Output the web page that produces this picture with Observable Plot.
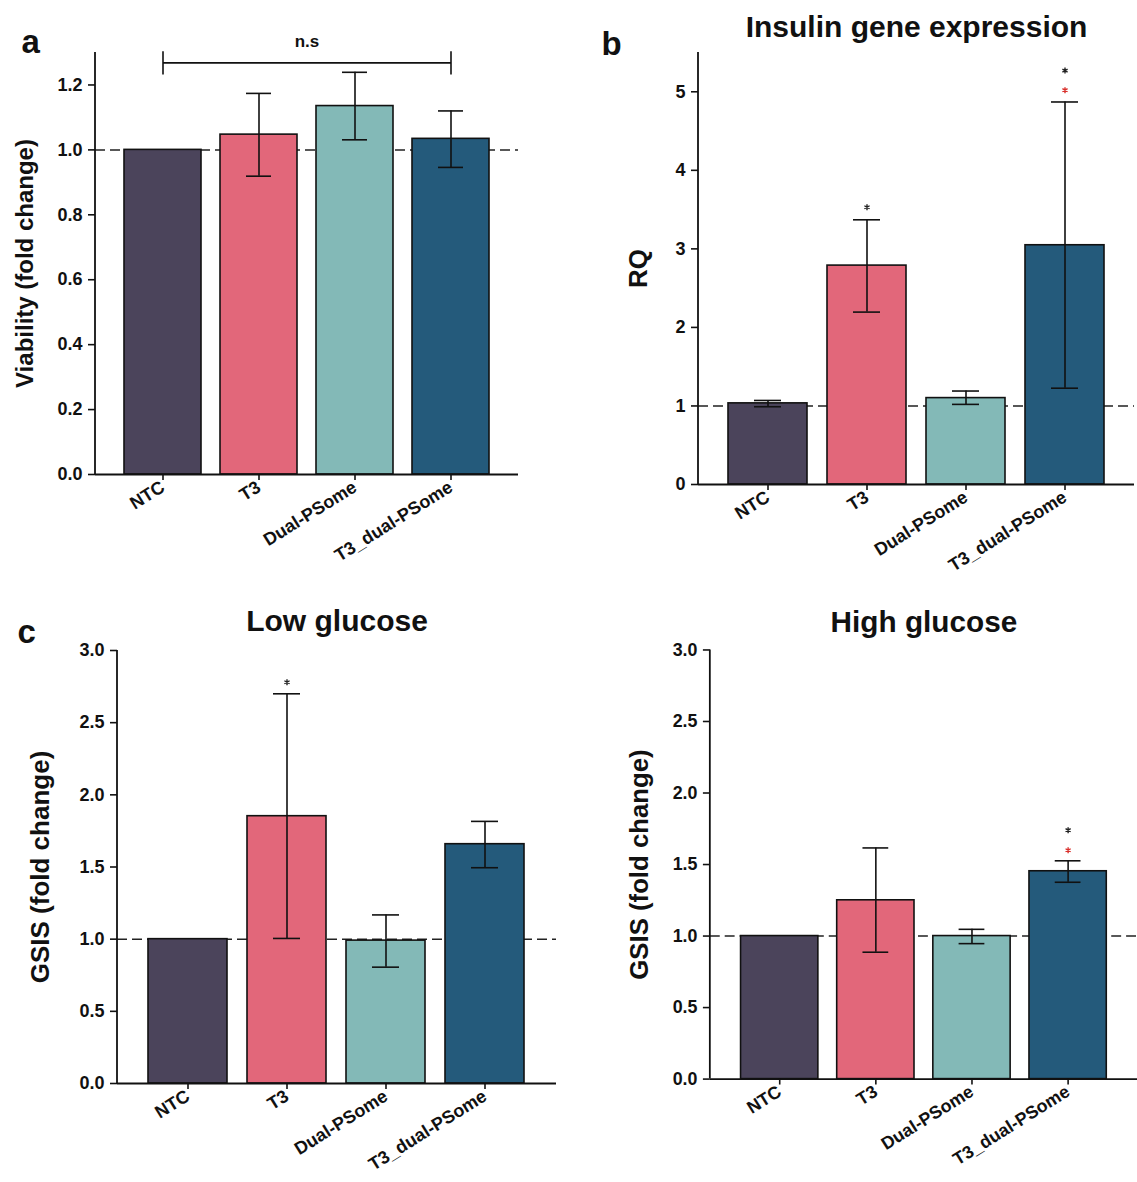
<!DOCTYPE html>
<html>
<head>
<meta charset="utf-8">
<script src="https://cdn.jsdelivr.net/npm/d3@7"></script>
<script src="https://cdn.jsdelivr.net/npm/@observablehq/plot@0.6"></script>
<style>
  html, body { margin: 0; padding: 0; background: #fff; overflow: hidden; }
  #fig { position: relative; width: 1137px; height: 1182px; }
  .panel { position: absolute; }
</style>
</head>
<body>
<div id="fig">
  <div class="panel" id="pa" style="left:0px;top:0px"></div>
  <div class="panel" id="pb" style="left:580px;top:0px"></div>
  <div class="panel" id="pc" style="left:0px;top:590px"></div>
  <div class="panel" id="pd" style="left:580px;top:590px"></div>
</div>
<script>
// ---------- data ----------
const groups = ["NTC", "T3", "Dual-PSome", "T3_dual-PSome"];
const groupColors = ["#4b445b", "#e2677a", "#83b9b7", "#245a7b"];

// a: viability
const viabMean = [1.0, 1.047, 1.135, 1.034];
const viabLo   = [null, 0.919, 1.031, 0.946];
const viabHi   = [null, 1.174, 1.239, 1.120];
const viabTicks = [0, 0.2, 0.4, 0.6, 0.8, 1.0, 1.2];
const nsGroups = ["NTC", "T3_dual-PSome"];
const nsLevel = 1.268, nsTickLo = 1.231, nsTickHi = 1.302, nsLabelY = 1.318;

// b: insulin gene expression
const rqMean = [1.033, 2.787, 1.10, 3.046];
const rqLo   = [0.99, 2.195, 1.02, 1.226];
const rqHi   = [1.07, 3.37, 1.19, 4.87];
const rqTicks = [0, 1, 2, 3, 4, 5];
const rqStarGroups = ["T3", "T3_dual-PSome", "T3_dual-PSome"];
const rqStarValues = [3.53, 5.27, 5.02];
const rqStarColors = ["#222", "#222", "#d9302c"];

// c: low glucose
const lowMean = [1.0, 1.852, 0.99, 1.658];
const lowLo   = [null, 1.005, 0.806, 1.495];
const lowHi   = [null, 2.70, 1.168, 1.816];
const lowStarGroups = ["T3"];
const lowStarValues = [2.78];
const lowStarColors = ["#222"];

// d: high glucose
const highMean = [1.0, 1.25, 1.0, 1.453];
const highLo   = [null, 0.887, 0.947, 1.376];
const highHi   = [null, 1.616, 1.047, 1.526];
const highStarGroups = ["T3_dual-PSome", "T3_dual-PSome"];
const highStarValues = [1.74, 1.60];
const highStarColors = ["#222", "#d9302c"];

const gsisTicks = [0, 0.5, 1.0, 1.5, 2.0, 2.5, 3.0];

// ---------- drawing ----------
const FONT = "'Liberation Sans', Arial, Helvetica, sans-serif";
const INK = "#111";

const yAxisLine = (index, scales, values, dims) => {
  const l = document.createElementNS("http://www.w3.org/2000/svg", "line");
  l.setAttribute("x1", dims.marginLeft);
  l.setAttribute("x2", dims.marginLeft);
  l.setAttribute("y1", dims.marginTop);
  l.setAttribute("y2", dims.height - dims.marginBottom);
  l.setAttribute("stroke", INK);
  l.setAttribute("stroke-width", 1.8);
  return l;
};

function panel(o) {
  const rows = groups.map((g, i) => ({g, v: o.means[i], lo: o.los[i], hi: o.his[i], c: groupColors[i]}));
  const errs = rows.filter(d => d.lo != null);
  const stars = (o.starGroups || []).map((g, i) => ({g, y: o.starValues[i], c: o.starColors[i]}));
  const capInset = 26;
  return Plot.plot({
    width: o.width, height: o.height,
    marginLeft: o.m[0], marginRight: o.m[1], marginTop: o.m[2], marginBottom: o.m[3],
    style: {fontFamily: FONT, fontSize: "17px", overflow: "visible", background: "transparent", color: INK},
    x: {domain: groups, paddingInner: 0.2, paddingOuter: 0.3, axis: null},
    y: {domain: o.yDomain, axis: null},
    color: {type: "identity"},
    marks: [
      Plot.ruleY([1], {stroke: "#222", strokeWidth: 1.5, strokeDasharray: "10,5"}),
      Plot.barY(rows, {x: "g", y: "v", fill: "c", stroke: INK, strokeWidth: 1.6}),
      Plot.ruleX(errs, {x: "g", y1: "lo", y2: "hi", stroke: INK, strokeWidth: 1.6}),
      Plot.tickY(errs, {x: "g", y: "hi", stroke: INK, strokeWidth: 1.6, insetLeft: capInset, insetRight: capInset}),
      Plot.tickY(errs, {x: "g", y: "lo", stroke: INK, strokeWidth: 1.6, insetLeft: capInset, insetRight: capInset}),
      Plot.ruleY([0], {stroke: INK, strokeWidth: 1.8}),
      yAxisLine,
      Plot.axisY({ticks: o.ticks, tickFormat: o.fmt, tickSize: 7, tickPadding: 6, fontSize: 18, fontWeight: "bold", label: null, strokeWidth: 1.6}),
      Plot.axisX({tickSize: 6, tickPadding: 5, tickRotate: -32, fontSize: 18, fontWeight: "bold", label: null, strokeWidth: 1.6}),
      Plot.dot(stars, {x: "g", y: "y", stroke: "c", symbol: "asterisk", r: 2.8, strokeWidth: 1.4}),
      Plot.text([o.yTitle], {frameAnchor: "left", textAnchor: "middle", rotate: -90, dx: o.yTitleDx, lineAnchor: "middle", fontSize: o.yTitleSize, fontWeight: "bold", fill: INK}),
      o.title ? Plot.text([o.title], {frameAnchor: "top", textAnchor: "middle", dy: o.titleDy, lineAnchor: "bottom", fontSize: 30, fontWeight: "bold", fill: INK}) : null,
      o.letter ? Plot.text([o.letter], {frameAnchor: "top-left", textAnchor: "start", dx: o.letterDx, dy: o.letterDy, lineAnchor: "bottom", fontSize: 33, fontWeight: "bold", fill: INK}) : null,
      ...(o.extras || [])
    ]
  });
}

const fmt1 = d3.format(".1f");
const fmt0 = d3.format("d");

// a
const nsBracket = [{x1: nsGroups[0], x2: nsGroups[1], y: nsLevel}];
document.getElementById("pa").append(panel({
  means: viabMean, los: viabLo, his: viabHi, ticks: viabTicks, fmt: fmt1,
  yDomain: [0, 1.3], width: 540, height: 560, m: [95, 22, 52, 86],
  yTitle: "Viability (fold change)", yTitleSize: 24, yTitleDx: -70,
  letter: "a", letterDx: -74, letterDy: 0,
  extras: [
    Plot.link(nsBracket, {x1: "x1", x2: "x2", y1: "y", y2: "y", stroke: INK, strokeWidth: 1.6}),
    Plot.ruleX(nsGroups, {x: d => d, y1: nsTickLo, y2: nsTickHi, stroke: INK, strokeWidth: 1.6}),
    Plot.text(["n.s"], {y: nsLabelY, lineAnchor: "bottom", fontSize: 17, fontWeight: "bold", fill: INK})
  ]
}));

// b
document.getElementById("pb").append(panel({
  means: rqMean, los: rqLo, his: rqHi, ticks: rqTicks, fmt: fmt0,
  yDomain: [0, 5.5], width: 557, height: 560, m: [118, 3, 52, 76],
  yTitle: "RQ", yTitleSize: 26, yTitleDx: -60,
  title: "Insulin gene expression", titleDy: -16,
  letter: "b", letterDx: -97, letterDy: 2,
  starGroups: rqStarGroups, starValues: rqStarValues, starColors: rqStarColors
}));

// c
document.getElementById("pc").append(panel({
  means: lowMean, los: lowLo, his: lowHi, ticks: gsisTicks, fmt: fmt1,
  yDomain: [0, 3], width: 580, height: 592, m: [117, 24, 60, 99],
  yTitle: "GSIS (fold change)", yTitleSize: 26, yTitleDx: -77,
  title: "Low glucose", titleDy: -20,
  letter: "c", letterDx: -100, letterDy: -8,
  starGroups: lowStarGroups, starValues: lowStarValues, starColors: lowStarColors
}));

// d
document.getElementById("pd").append(panel({
  means: highMean, los: highLo, his: highHi, ticks: gsisTicks, fmt: fmt1,
  yDomain: [0, 3], width: 562, height: 592, m: [131, 0, 60, 99],
  yTitle: "GSIS (fold change)", yTitleSize: 26, yTitleDx: -71,
  title: "High glucose", titleDy: -18,
  starGroups: highStarGroups, starValues: highStarValues, starColors: highStarColors
}));
</script>
</body>
</html>
